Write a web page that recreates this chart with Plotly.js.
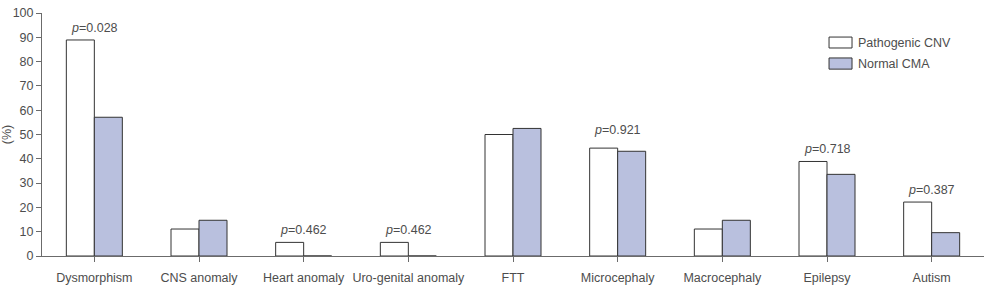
<!DOCTYPE html>
<html>
<head>
<meta charset="utf-8">
<script src="https://cdn.plot.ly/plotly-3.0.1.min.js"></script>
<style>
  html, body { margin: 0; padding: 0; background: #fff; }
  #chart { width: 985px; height: 286px; }
</style>
</head>
<body>
<div id="chart"></div>
<script>
// Clinical features by CMA result (%)
const categories = ["Dysmorphism", "CNS anomaly", "Heart anomaly", "Uro-genital anomaly",
                    "FTT", "Microcephaly", "Macrocephaly", "Epilepsy", "Autism"];
const seriesNames = ["Pathogenic CNV", "Normal CMA"];
const pathogenicCNV = [88.9, 11.1, 5.6, 5.6, 50.0, 44.4, 11.1, 38.9, 22.2];
const normalCMA     = [57.1, 14.7, 0,   0,   52.5, 43.1, 14.7, 33.6, 9.6];
const pValues       = ["0.028", null, "0.462", "0.462", null, "0.921", null, "0.718", "0.387"];
const yTicks = [0, 10, 20, 30, 40, 50, 60, 70, 80, 90, 100];

const textColor = "#4d4d4d";
const axisColor = "#6b6b6b";
const outline = "#333333";
const blueFill = "#b9c0de";
const font = { family: "Liberation Sans, Arial, sans-serif", size: 12.5, color: textColor };

const traces = [
  {
    type: "bar", name: seriesNames[0], x: categories, y: pathogenicCNV,
    marker: { color: "#ffffff", line: { color: outline, width: 1 } },
    hoverinfo: "skip"
  },
  {
    type: "bar", name: seriesNames[1], x: categories, y: normalCMA,
    marker: { color: blueFill, line: { color: outline, width: 1 } },
    hoverinfo: "skip"
  }
];

// p-value labels sit just above the taller bar of each pair
const extraLift = { "Microcephaly": 6 };
const annotations = [];
categories.forEach((c, i) => {
  if (!pValues[i]) return;
  annotations.push({
    x: c, y: Math.max(pathogenicCNV[i], normalCMA[i]),
    xref: "x", yref: "y", xanchor: "center", yanchor: "bottom",
    yshift: 3 + (extraLift[c] || 0),
    text: "<i>p</i>=" + pValues[i], showarrow: false, font: font
  });
});

// Legend: wide swatches with labels
const legendShapes = [];
const swatchFills = ["#ffffff", blueFill];
const swatchY = [[0.856, 0.901], [0.769, 0.815]];
seriesNames.forEach((name, k) => {
  legendShapes.push({
    type: "rect", xref: "paper", yref: "paper",
    x0: 0.8355, x1: 0.8599, y0: swatchY[k][0], y1: swatchY[k][1],
    fillcolor: swatchFills[k], line: { color: outline, width: 1 }
  });
  annotations.push({
    xref: "paper", yref: "paper", x: 0.864, y: (swatchY[k][0] + swatchY[k][1]) / 2,
    xanchor: "left", yanchor: "middle", text: name, showarrow: false, font: font
  });
});

const layout = {
  width: 985, height: 286,
  margin: { l: 42, r: 1, t: 13, b: 30, pad: 0 },
  paper_bgcolor: "#ffffff", plot_bgcolor: "#ffffff",
  barmode: "group", bargap: 0.465, bargroupgap: 0,
  showlegend: false,
  font: font,
  xaxis: {
    type: "category", range: [-0.5, 8.5], fixedrange: true,
    showline: true, linecolor: axisColor, linewidth: 1,
    ticks: "outside", ticklen: 5, tickcolor: axisColor, tickwidth: 1,
    ticklabelstandoff: 5,
    showgrid: false, zeroline: false, automargin: false,
    tickfont: font
  },
  yaxis: {
    range: [0, 100], tickvals: yTicks, fixedrange: true,
    showline: true, linecolor: axisColor, linewidth: 1,
    ticks: "outside", ticklen: 5, tickcolor: axisColor, tickwidth: 1,
    showgrid: false, zeroline: false, automargin: false,
    tickfont: font,
    title: { text: "(%)", font: font, standoff: 6 }
  },
  annotations: annotations,
  shapes: legendShapes
};

Plotly.newPlot("chart", traces, layout, { displayModeBar: false, staticPlot: true });
</script>
</body>
</html>
